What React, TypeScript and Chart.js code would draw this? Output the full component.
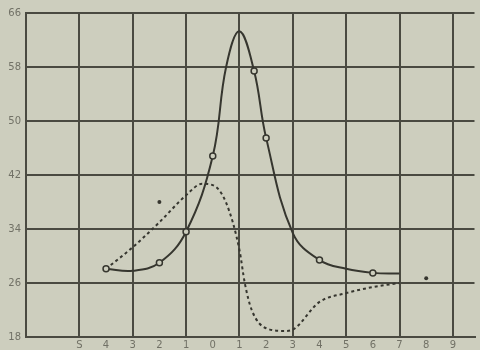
import React, { useEffect, useRef } from "react";
import { Chart, registerables } from "chart.js";

Chart.register(...registerables);

// x positions 0..14 carry these labels; grid lines every 2 units from -2
const xTickLabels = ["S", "4", "3", "2", "1", "0", "1", "2", "3", "4", "5", "6", "7", "8", "9"];
const yTicks = [18, 26, 34, 42, 50, 58, 66];

// solid curve
const solidX = [1, 2, 3, 4, 5, 5.5, 6, 6.55, 7, 8, 9, 10, 11, 12];
const solidY = [28.1, 27.8, 29.0, 33.6, 44.8, 58, 63.3, 57.4, 47.5, 33.4, 29.4, 28.1, 27.5, 27.4];

// open circle markers on the solid curve
const circleX = [1, 3, 4, 5, 6.55, 7, 9, 11];
const circleY = [28.1, 29.0, 33.6, 44.8, 57.4, 47.5, 29.4, 27.5];

// dashed curve
const dashedX = [1, 2, 3, 4, 4.6, 5, 5.5, 6, 6.2, 6.46, 7, 7.7, 8, 9, 10, 11, 12];
const dashedY = [28.1, 31.3, 35.0, 39.0, 40.7, 40.5, 37.9, 30.9, 26, 22, 19.3, 18.9, 19.1, 23.2, 24.5, 25.4, 26.0];

// lone filled dots
const dotX = [3, 13];
const dotY = [38.0, 26.7];

const BG = "#cdcebe";
const GRID = "#4a4a41";
const INK = "#36362f";
const LABEL = "#717166";

const zip = (xs: number[], ys: number[]) => xs.map((x, i) => ({ x, y: ys[i] }));

export default function App() {
  const ref = useRef<HTMLCanvasElement | null>(null);

  useEffect(() => {
    document.body.style.margin = "0";
    document.body.style.background = BG;
    const canvas = ref.current;
    if (!canvas) return;

    const bgPlugin = {
      id: "bg",
      beforeDraw(chart: any) {
        const { ctx, width, height } = chart;
        ctx.save();
        ctx.fillStyle = BG;
        ctx.fillRect(0, 0, width, height);
        ctx.restore();
      },
    };

    const chart = new Chart(canvas, {
      type: "line",
      data: {
        datasets: [
          {
            type: "scatter",
            data: zip(circleX, circleY),
            pointRadius: 3,
            pointBackgroundColor: BG,
            pointBorderColor: INK,
            pointBorderWidth: 1.5,
            showLine: false,
          } as any,
          {
            type: "scatter",
            data: zip(dotX, dotY),
            pointRadius: 2,
            pointBackgroundColor: INK,
            pointBorderColor: INK,
            pointBorderWidth: 0,
            showLine: false,
          } as any,
          {
            data: zip(solidX, solidY),
            borderColor: INK,
            borderWidth: 2,
            pointRadius: 0,
            tension: 0.4,
            fill: false,
          },
          {
            data: zip(dashedX, dashedY),
            borderColor: INK,
            borderWidth: 2,
            borderDash: [3, 3],
            pointRadius: 0,
            cubicInterpolationMode: "monotone",
            fill: false,
          },
        ],
      },
      options: {
        responsive: false,
        animation: false,
        devicePixelRatio: 1,
        layout: { padding: { top: 13, left: 0, right: 0, bottom: 0 } },
        plugins: { legend: { display: false }, tooltip: { enabled: false } },
        scales: {
          x: {
            type: "linear",
            min: -2,
            max: 14.81,
            afterBuildTicks: (scale: any) => {
              const t = [];
              for (let v = -2; v <= 14; v++) t.push({ value: v });
              scale.ticks = t;
            },
            afterFit: (scale: any) => {
              scale.height = 13;
            },
            grid: {
              drawTicks: false,
              lineWidth: 2,
              color: (ctx: any) => {
                const v = ctx.tick ? ctx.tick.value : 0;
                return Math.abs(v % 2) === 0 ? GRID : "rgba(0,0,0,0)";
              },
            },
            border: { display: true, color: GRID, width: 2 },
            ticks: {
              padding: 2,
              autoSkip: false,
              maxRotation: 0,
              color: LABEL,
              font: { family: "DejaVu Sans", size: 10 },
              callback: (v: any) => {
                const i = Math.round(Number(v));
                return i >= 0 && i < xTickLabels.length ? xTickLabels[i] : "";
              },
            },
          },
          y: {
            type: "linear",
            min: yTicks[0],
            max: yTicks[yTicks.length - 1],
            afterBuildTicks: (scale: any) => {
              scale.ticks = yTicks.map((v) => ({ value: v }));
            },
            afterFit: (scale: any) => {
              scale.width = 26;
            },
            grid: { drawTicks: false, lineWidth: 2, color: GRID },
            border: { display: true, color: GRID, width: 2 },
            ticks: {
              padding: 5,
              color: LABEL,
              font: { family: "DejaVu Sans", size: 10 },
            },
          },
        },
      },
      plugins: [bgPlugin],
    } as any);

    return () => chart.destroy();
  }, []);

  return <canvas ref={ref} width={480} height={350} style={{ display: "block" }} />;
}
